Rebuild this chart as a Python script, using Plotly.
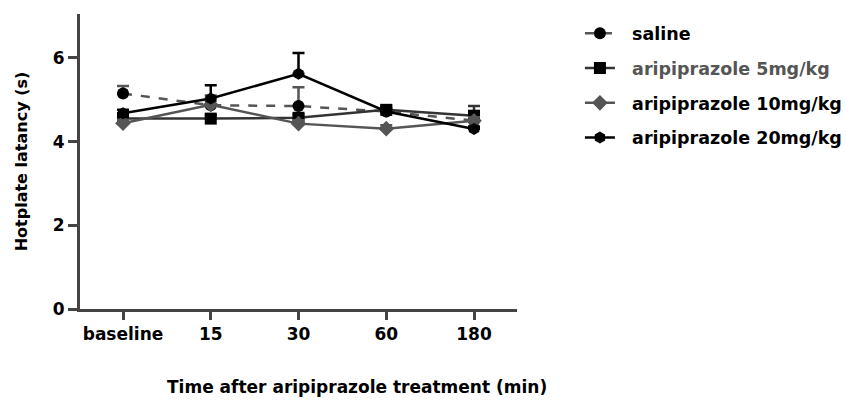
import plotly.graph_objects as go

categories = ["baseline", "15", "30", "60", "180"]
series_names = ["saline", "aripiprazole 5mg/kg", "aripiprazole 10mg/kg", "aripiprazole 20mg/kg"]
saline = [5.15, 4.87, 4.85, 4.72, 4.50]
saline_err = [0.18, 0.10, 0.45, 0.08, 0.08]
ari5 = [4.55, 4.55, 4.57, 4.76, 4.62]
ari5_err = [0.08, 0.08, 0.08, 0.10, 0.23]
ari10 = [4.44, 4.88, 4.43, 4.31, 4.50]
ari10_err = [0.08, 0.22, 0.08, 0.08, 0.08]
ari20 = [4.68, 5.03, 5.62, 4.72, 4.30]
ari20_err = [0.08, 0.32, 0.50, 0.08, 0.06]
x_title = "Time after aripiprazole treatment (min)"
y_title = "Hotplate latancy (s)"

values = [saline, ari5, ari10, ari20]
errors = [saline_err, ari5_err, ari10_err, ari20_err]
line_colors = ["#555555", "#333333", "#555555", "#000000"]
marker_colors = ["#000000", "#000000", "#555555", "#000000"]
symbols = ["circle", "square", "diamond", "hexagon"]
dashes = ["dash", "solid", "solid", "solid"]
legend_text_colors = ["#000000", "#555555", "#000000", "#000000"]

FONT = "DejaVu Sans, Arial, sans-serif"

fig = go.Figure()
for i in range(4):
    fig.add_trace(go.Scatter(
        x=list(range(len(categories))), y=values[i],
        name=f"<span style='color:{legend_text_colors[i]}'>&nbsp;&nbsp;{series_names[i]}</span>",
        mode="lines+markers",
        line=dict(color=line_colors[i], width=2.5, dash=dashes[i]),
        marker=dict(symbol=symbols[i], size=12, color=marker_colors[i]),
        error_y=dict(type="data", array=errors[i], symmetric=False,
                     arrayminus=[0] * len(categories),
                     color=line_colors[i], thickness=2.5, width=6),
        legendgroup=str(i),
    ))

fig.add_annotation(text=f"<b>{x_title}</b>", xref="paper", yref="paper",
                   x=0.634, y=-0.265, xanchor="center", yanchor="middle",
                   showarrow=False, font=dict(size=17, family=FONT, color="#000000"))

fig.update_layout(
    width=846, height=403,
    margin=dict(l=80, r=329, t=14, b=94, autoexpand=False),
    plot_bgcolor="white", paper_bgcolor="white",
    font=dict(family=FONT, size=17, color="#000000"),
    showlegend=True,
    legend=dict(x=1.144, y=0.995, xanchor="left", yanchor="top",
                font=dict(size=17.5, family=FONT, weight="bold"),
                tracegroupgap=9, itemwidth=30, bgcolor="rgba(0,0,0,0)"),
    xaxis=dict(
        tickmode="array", tickvals=list(range(len(categories))), ticktext=categories,
        range=[-0.49, 4.49], showline=True, linecolor="#444444", linewidth=3,
        ticks="outside", ticklen=8, tickwidth=2.5, tickcolor="#444444",
        showgrid=False, zeroline=False, automargin=False,
        tickfont=dict(size=17, weight="bold"),
    ),
    yaxis=dict(
        range=[0, 7.05], tickvals=[0, 2, 4, 6], showline=True, linecolor="#444444", linewidth=3,
        ticks="outside", ticklen=9, tickwidth=2.5, tickcolor="#444444",
        showgrid=False, zeroline=False, automargin=False,
        tickfont=dict(size=17, weight="bold"),
        title=dict(text=f"<b>{y_title}</b>", font=dict(size=16), standoff=22),
    ),
)

fig.write_html("out.html", config={"displayModeBar": False},
               post_script="document.body.style.margin='0';")
